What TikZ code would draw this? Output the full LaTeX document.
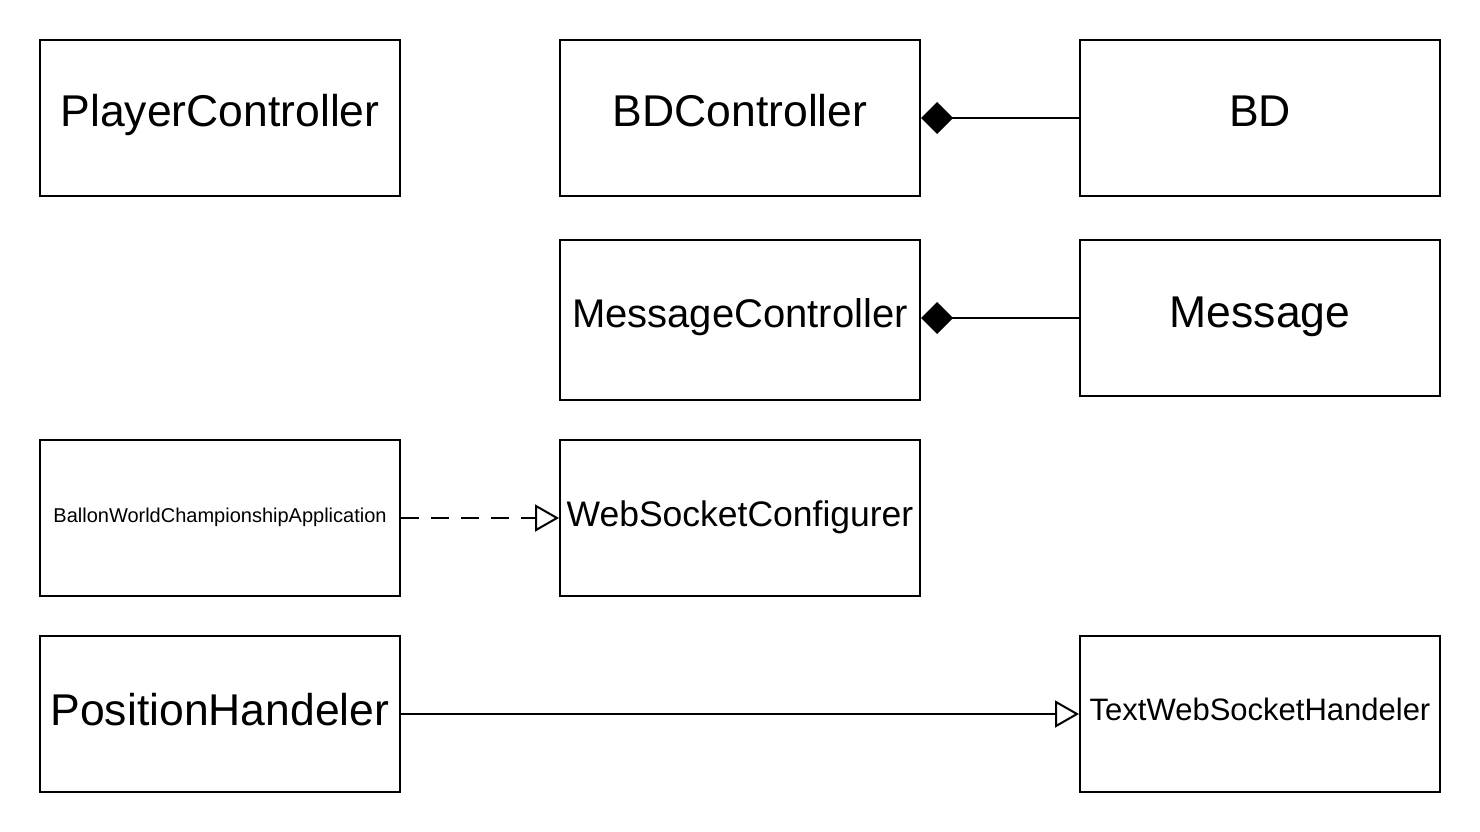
\documentclass[tikz,border=0pt]{standalone}
\usepackage{fontspec}
\setmainfont{Liberation Sans}
\usetikzlibrary{arrows.meta}
\begin{document}
\begin{tikzpicture}[x=1pt,y=-1pt,
  box/.style={draw=black,line width=2pt,fill=white,inner sep=0pt,minimum width=360pt,minimum height=156pt},
  lbl/.style={anchor=base,inner sep=0pt},
  conn/.style={line width=2pt,draw=black},
  comp/.style={conn,{Diamond[length=32pt,width=32pt,line width=0pt,fill=black]}-},
  real/.style={conn,-{Triangle[open,length=24pt,width=27pt,line width=2pt,fill=white]}}]
\useasboundingbox (0,0) rectangle (1480,832);
% boxes
\node[box] (pc) at (220,118) {};
\node[box] (bdc) at (740,118) {};
\node[box] (bd) at (1260,118) {};
\node[box,minimum height=160pt] (mc) at (740,320) {};
\node[box] (msg) at (1260,318) {};
\node[box] (bwa) at (220,518) {};
\node[box] (wsc) at (740,518) {};
\node[box] (ph) at (220,714) {};
\node[box] (twh) at (1260,714) {};
% labels
\node[lbl,font=\fontsize{44.5}{48}\selectfont] (pct) at (220,127) {PlayerController};
\node[lbl,font=\fontsize{44.5}{48}\selectfont] (bdct) at (740,127) {BDController};
\node[lbl,font=\fontsize{44.5}{48}\selectfont] (bdt) at (1260,127) {BD};
\node[lbl,font=\fontsize{40}{44}\selectfont] (mct) at (740,327) {MessageController};
\node[lbl,font=\fontsize{44.5}{48}\selectfont] (msgt) at (1260,327) {Message};
\node[lbl,font=\fontsize{20}{24}\selectfont] (bwat) at (220,522) {BallonWorldChampionshipApplication};
\node[lbl,font=\fontsize{35.5}{40}\selectfont] (wsct) at (740,526) {WebSocketConfigurer};
\node[lbl,font=\fontsize{44.5}{48}\selectfont] (pht) at (220,725) {PositionHandeler};
\node[lbl,font=\fontsize{31}{34}\selectfont] (twht) at (1260,720) {TextWebSocketHandeler};
% connectors
\draw[comp] (bdc.east) -- (bd.west);
\draw[comp] (mc.east |- msg.west) -- (msg.west);
\draw[real,dash pattern=on 18pt off 12pt] (bwa.east) -- (wsc.west);
\draw[real] (ph.east) -- (twh.west);
\end{tikzpicture}
\end{document}
